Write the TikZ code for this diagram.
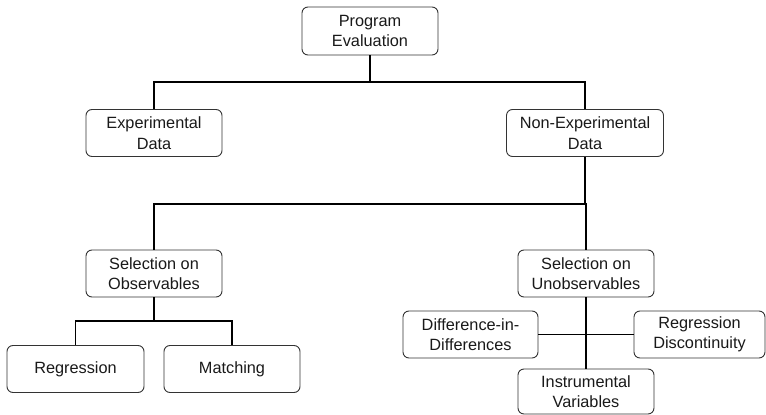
\documentclass[tikz,border=0pt]{standalone}
\usepackage{fontspec}
\setmainfont{Liberation Sans}
\begin{document}
\begin{tikzpicture}[x=1pt,y=-1pt,
  box/.style={draw=black!80,line width=0.9pt,rounded corners=6pt,align=center,
    minimum height=47pt,inner sep=0pt,font=\fontsize{16.3}{20.5}\selectfont,text=black!90},
  link/.style={draw=black,line width=1.3pt}]
\useasboundingbox (0,0) rectangle (766,415);
\node[box,minimum width=136pt,minimum height=48pt] (pe) at (370,31) {Program\\Evaluation};
\node[box,minimum width=136pt] (exp) at (154,133) {Experimental\\Data};
\node[box,minimum width=157pt] (nonexp) at (585,133) {Non-Experimental\\Data};
\node[box,minimum width=136pt] (sobs) at (154,273.5) {Selection on\\Observables};
\node[box,minimum width=136pt] (sunobs) at (586,273.5) {Selection on\\Unobservables};
\node[box,minimum width=137pt] (reg) at (75.5,369) {Regression};
\node[box,minimum width=136pt] (match) at (232,369) {Matching};
\node[box,minimum width=135pt] (did) at (470.5,334.5) {Difference-in-\\Differences};
\node[box,minimum width=131pt] (rd) at (699.5,334.5) {Regression\\Discontinuity};
\node[box,minimum width=136pt,minimum height=45pt] (iv) at (586,391.5) {Instrumental\\Variables};
\coordinate (j1) at (370,82);
\coordinate (j2) at (585,204);
\coordinate (j3) at (154,321);
\draw[link] (pe.south) -- (j1);
\draw[link] (exp.north) |- (j1) -| (nonexp.north);
\draw[link] (nonexp.south) -- (j2);
\draw[link] (sobs.north) |- (j2) -| (sunobs.north);
\draw[link] (sobs.south) -- (j3);
\draw[link] (reg.north) |- (j3) -| (match.north);
\draw[link] (sunobs.south) -- (iv.north);
\draw[link] (did.east) -- (rd.west);
\end{tikzpicture}
\end{document}
